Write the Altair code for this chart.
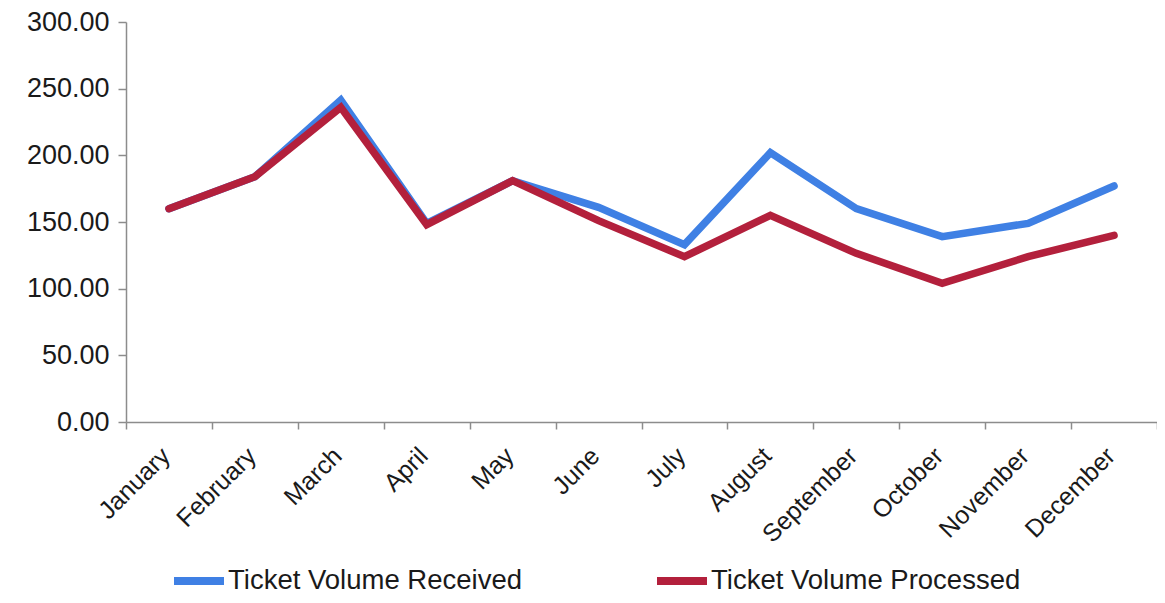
import altair as alt
import pandas as pd

months = ["January", "February", "March", "April", "May", "June", "July",
          "August", "September", "October", "November", "December"]
received = [160, 184, 241.5, 149, 181, 161, 133, 202, 160, 139, 149, 177]
processed = [160, 184, 236, 148, 181, 151, 124, 155, 126.5, 104, 124, 140]
series = ["Ticket Volume Received", "Ticket Volume Processed"]
colors = ["#3f80e4", "#b3203c"]

rows = []
for name, vals in zip(series, [received, processed]):
    for m, v in zip(months, vals):
        rows.append({"month": m, "value": v, "series": name})
df = pd.DataFrame(rows)
df["order"] = df["series"].map({series[0]: 0, series[1]: 1})

FONT = "Liberation Sans"

chart = alt.Chart(df).mark_line(strokeWidth=7.5, strokeCap="round").encode(
    x=alt.X("month:N", sort=months, bandPosition=0.5,
            scale=alt.Scale(type="band", paddingInner=0, paddingOuter=0),
            axis=alt.Axis(title=None, labelAngle=-45, tickBand="extent",
                          labelFontSize=25, labelFont=FONT, labelColor="#1a1a1a",
                          domainColor="#8c8c8c", tickColor="#8c8c8c",
                          tickSize=7, domainWidth=1.5, tickWidth=1.5,
                          labelPadding=14, labelOffset=-12,
                          labelAlign="right", labelBaseline="top")),
    y=alt.Y("value:Q", scale=alt.Scale(domain=[0, 300], nice=False),
            axis=alt.Axis(title=None, values=[0, 50, 100, 150, 200, 250, 300],
                          format=".2f", grid=False,
                          labelFontSize=27, labelFont=FONT, labelColor="#1a1a1a",
                          domainColor="#8c8c8c", tickColor="#8c8c8c",
                          tickSize=8, domainWidth=1.5, tickWidth=1.5,
                          labelPadding=9)),
    color=alt.Color("series:N", sort=series,
                    scale=alt.Scale(domain=series, range=colors),
                    legend=alt.Legend(title=None, orient="none", direction="horizontal",
                                      legendX=44, legendY=530, padding=0,
                                      symbolType="stroke", symbolSize=2500,
                                      symbolStrokeWidth=8, labelOffset=0,
                                      columnPadding=119, labelFontSize=27.5,
                                      labelFont=FONT, labelColor="#1a1a1a",
                                      labelLimit=0)),
    order=alt.Order("order:Q"),
).properties(
    width=1031, height=400,
    autosize=alt.AutoSizeParams(type="none"),
    padding={"left": 118, "top": 14, "right": 0, "bottom": 173},
).configure_view(stroke=None)

chart.save("out.html", embed_options={"renderer": "svg", "actions": False})
